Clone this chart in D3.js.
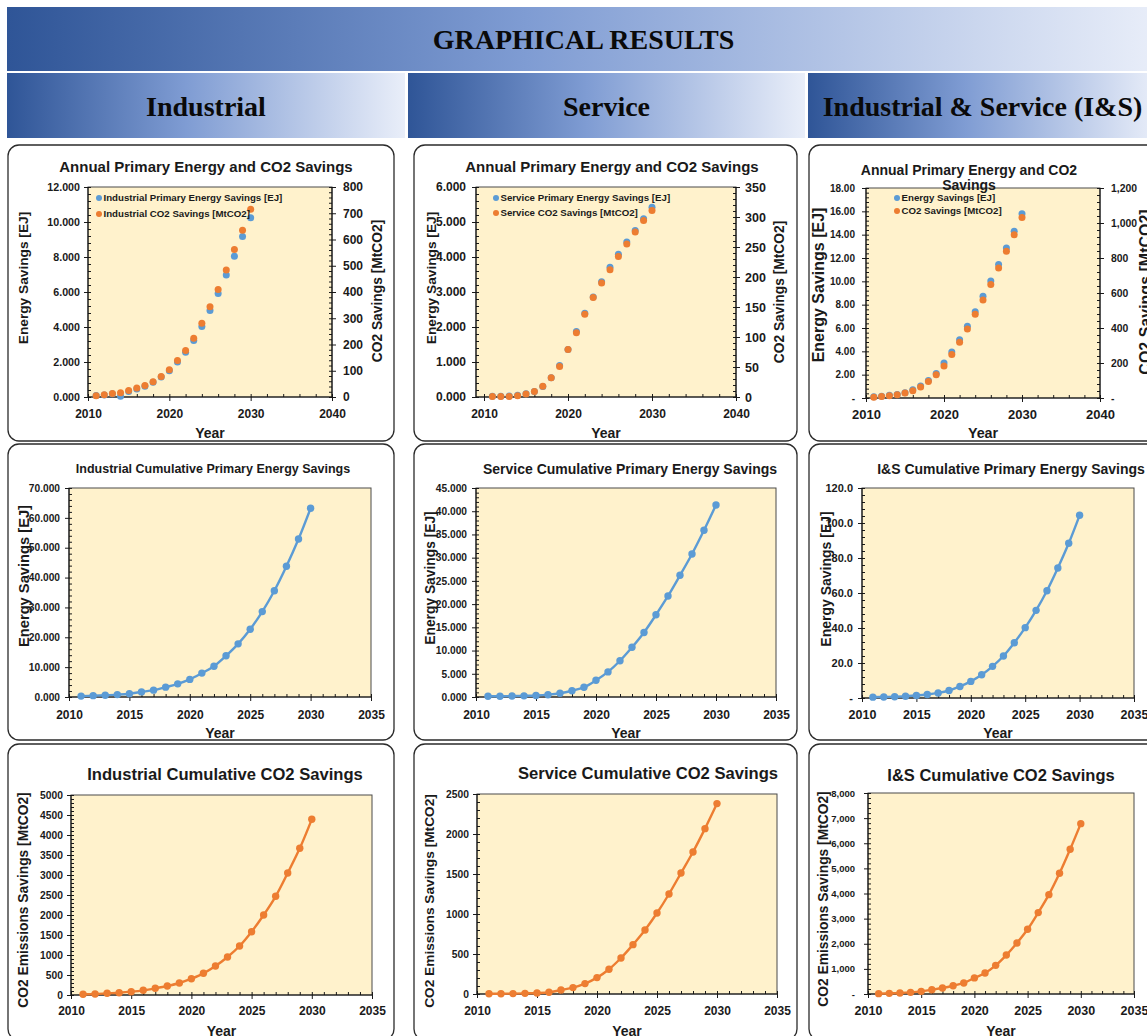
<!DOCTYPE html>
<html>
<head>
<meta charset="utf-8">
<script src="https://cdn.jsdelivr.net/npm/d3@7"></script>
<style>
  html, body { margin: 0; padding: 0; background: #ffffff; }
  svg { display: block; }
</style>
</head>
<body>
<svg id="chart" width="1147" height="1036"></svg>
<script>
// ---- Data -------------------------------------------------------------
const years = [2011, 2012, 2013, 2014, 2015, 2016, 2017, 2018, 2019, 2020,
               2021, 2022, 2023, 2024, 2025, 2026, 2027, 2028, 2029, 2030];

// Annual savings (energy in EJ, CO2 in MtCO2)
const indAnnualEnergy = [0.08, 0.12, 0.18, 0.05, 0.32, 0.46, 0.61, 0.85, 1.14, 1.50,
                         2.00, 2.56, 3.23, 4.03, 4.94, 5.92, 6.97, 8.05, 9.17, 10.25];
const indAnnualCO2    = [5, 9, 13, 16, 25, 34, 44, 58, 78, 104,
                         139, 177, 224, 281, 344, 410, 484, 562, 635, 715];
const svcAnnualEnergy = [0.02, 0.02, 0.03, 0.05, 0.09, 0.16, 0.30, 0.55, 0.90, 1.36,
                         1.87, 2.39, 2.86, 3.29, 3.71, 4.08, 4.43, 4.76, 5.09, 5.42];
const svcAnnualCO2    = [1, 1, 1, 2, 5, 9, 18, 32, 51, 79,
                         107, 138, 166, 190, 212, 234, 255, 275, 294, 311];
const isAnnualEnergy  = [0.10, 0.15, 0.23, 0.30, 0.45, 0.70, 1.03, 1.50, 2.10, 3.00,
                         3.95, 5.00, 6.15, 7.40, 8.72, 10.02, 11.45, 12.85, 14.30, 15.80];
const isAnnualCO2     = [4, 8, 13, 19, 29, 42, 63, 95, 133, 183,
                         248, 318, 394, 478, 560, 648, 743, 838, 933, 1032];

// Cumulative savings
const indCumEnergy = [0.3, 0.45, 0.6, 0.8, 1.1, 1.7, 2.3, 3.3, 4.4, 5.9,
                      8.0, 10.3, 13.8, 17.8, 22.7, 28.6, 35.6, 43.8, 52.9, 63.2];
const svcCumEnergy = [0.15, 0.17, 0.2, 0.25, 0.33, 0.5, 0.8, 1.35, 2.1, 3.6,
                      5.4, 7.8, 10.7, 13.9, 17.7, 21.75, 26.2, 30.8, 35.9, 41.35];
const isCumEnergy  = [0.5, 0.6, 0.7, 1.0, 1.4, 2.0, 2.9, 4.3, 6.6, 9.5,
                      13.3, 18.1, 24.0, 31.6, 40.2, 50.1, 61.3, 74.3, 88.4, 104.4];
const indCumCO2    = [17, 25, 42, 58, 83, 117, 167, 225, 300, 408,
                      542, 725, 950, 1225, 1583, 2000, 2467, 3050, 3667, 4392];
const svcCumCO2    = [4, 4, 5, 8, 12, 22, 50, 80, 130, 205,
                      310, 450, 617, 800, 1012, 1250, 1512, 1775, 2067, 2380];
const isCumCO2     = [13, 25, 40, 65, 105, 170, 240, 330, 440, 640,
                      835, 1140, 1550, 2030, 2575, 3240, 3955, 4805, 5760, 6780];

// Tick labels and headings
const annualYearTicks = [2010, 2020, 2030, 2040];
const cumulativeYearTicks = [2010, 2015, 2020, 2025, 2030, 2035];
const pageTitle = "GRAPHICAL RESULTS";
const columnTitles = ["Industrial", "Service", "Industrial & Service (I&S)"];

// ---- Styling ----------------------------------------------------------
const BLUE = "#5b9bd5";
const ORANGE = "#ed7d31";
const PLOT_BG = "#fff2cc";
const SANS = "'Liberation Sans', Arial, Helvetica, sans-serif";
const SERIF = "'Liberation Serif', 'Times New Roman', serif";
const INK = "#1a1a1a";

const svg = d3.select("#chart");
const defs = svg.append("defs");

const grad = defs.append("linearGradient").attr("id", "hdrGrad")
  .attr("x1", "0%").attr("x2", "100%").attr("y1", "0%").attr("y2", "0%");
[[0, "#2f5597"], [0.45, "#7f9cd3"], [1, "#e9eef9"]]
  .forEach(([o, c]) => grad.append("stop").attr("offset", o).attr("stop-color", c));

// ---- Header bands -----------------------------------------------------
svg.append("rect").attr("x", 7).attr("y", 7).attr("width", 1153).attr("height", 64)
  .attr("fill", "url(#hdrGrad)");
svg.append("text").attr("x", 583.5).attr("y", 49).attr("text-anchor", "middle")
  .attr("font-family", SERIF).attr("font-weight", "bold").attr("font-size", 28)
  .attr("fill", "#0a0a0a").text(pageTitle);

const cells = [{ x: 7, w: 398 }, { x: 408, w: 397 }, { x: 808, w: 349 }];
cells.forEach((c, i) => {
  svg.append("rect").attr("x", c.x).attr("y", 73).attr("width", c.w).attr("height", 65)
    .attr("fill", "url(#hdrGrad)");
  svg.append("text").attr("x", c.x + c.w / 2).attr("y", 116).attr("text-anchor", "middle")
    .attr("font-family", SERIF).attr("font-weight", "bold").attr("font-size", 28)
    .attr("fill", "#0a0a0a").text(columnTitles[i]);
});

// ---- Panel drawing ----------------------------------------------------
const dashZero = f => d => (d === 0 ? "-" : f(d));

function styleAxis(a, fs) {
  a.attr("font-family", SANS).attr("font-size", fs).attr("font-weight", "bold")
    .attr("color", INK);
  a.select(".domain").remove();
}

function drawPanel(p) {
  const g = svg.append("g");
  const [bx, by, bw, bh] = p.box;
  const pl = p.plot;

  g.append("rect").attr("x", bx).attr("y", by).attr("width", bw).attr("height", bh)
    .attr("rx", 11).attr("ry", 11).attr("fill", "#fff")
    .attr("stroke", "#2b2b2b").attr("stroke-width", 1.3);

  g.append("rect").attr("x", pl.l).attr("y", pl.t)
    .attr("width", pl.r - pl.l).attr("height", pl.b - pl.t)
    .attr("fill", PLOT_BG).attr("stroke", "#4a4a4a").attr("stroke-width", 1);

  const x = d3.scaleLinear().domain(p.xDomain).range(p.xRange);
  const yL = d3.scaleLinear().domain([0, p.left.max]).range([pl.b, pl.t]);
  const yR = p.right ? d3.scaleLinear().domain([0, p.right.max]).range([pl.b, pl.t]) : null;

  // x axis: minor ticks inside, major ticks outside
  const xMinor = d3.range(p.xDomain[0], p.xDomain[1] + 1e-9, p.xMinorStep);
  const xm = g.append("g").attr("transform", `translate(0,${pl.b})`)
    .call(d3.axisBottom(x).tickValues(xMinor).tickSize(-3).tickFormat(""));
  styleAxis(xm, 10);
  const xa = g.append("g").attr("transform", `translate(0,${pl.b})`)
    .call(d3.axisBottom(x).tickValues(p.xTicks).tickSizeInner(4).tickSizeOuter(0)
      .tickFormat(d3.format("d")));
  styleAxis(xa, p.xFs);
  xa.selectAll("text").attr("y", p.xBase - pl.b).attr("dy", null);

  // left axis
  const lm = g.append("g").attr("transform", `translate(${pl.l},0)`)
    .call(d3.axisLeft(yL).tickValues(d3.range(0, p.left.max + 1e-9, p.left.minor))
      .tickSize(-3).tickFormat(""));
  styleAxis(lm, 10);
  const la = g.append("g").attr("transform", `translate(${pl.l},0)`)
    .call(d3.axisLeft(yL).tickValues(d3.range(0, p.left.max + 1e-9, p.left.step))
      .tickSizeInner(4).tickSizeOuter(0).tickPadding(pl.l - p.left.labelEnd - 4)
      .tickFormat(p.left.fmt));
  styleAxis(la, p.left.fs);

  // right axis (annual charts)
  if (yR) {
    const rm = g.append("g").attr("transform", `translate(${pl.r},0)`)
      .call(d3.axisRight(yR).tickValues(d3.range(0, p.right.max + 1e-9, p.right.minor))
        .tickSize(-3).tickFormat(""));
    styleAxis(rm, 10);
    const ra = g.append("g").attr("transform", `translate(${pl.r},0)`)
      .call(d3.axisRight(yR).tickValues(d3.range(0, p.right.max + 1e-9, p.right.step))
        .tickSizeInner(4).tickSizeOuter(0).tickPadding(p.right.labelStart - pl.r - 4)
        .tickFormat(p.right.fmt));
    styleAxis(ra, p.right.fs);
  }

  // axis lines
  g.append("line").attr("x1", pl.l).attr("x2", pl.r).attr("y1", pl.b).attr("y2", pl.b)
    .attr("stroke", "#111").attr("stroke-width", 1.1);
  g.append("line").attr("x1", pl.l).attr("x2", pl.l).attr("y1", pl.t).attr("y2", pl.b)
    .attr("stroke", "#111").attr("stroke-width", 1.1);
  if (yR) {
    g.append("line").attr("x1", pl.r).attr("x2", pl.r).attr("y1", pl.t).attr("y2", pl.b)
      .attr("stroke", "#111").attr("stroke-width", 1.1);
  }

  // titles
  const txt = (sel, fs) => sel.attr("font-family", SANS).attr("font-weight", "bold")
    .attr("font-size", fs).attr("fill", INK);
  p.title.lines.forEach((t, i) => {
    txt(g.append("text"), p.title.fs).attr("x", p.title.cx).attr("y", p.title.base[i])
      .attr("text-anchor", "middle").text(t);
  });
  txt(g.append("text"), p.yearFs).attr("x", (pl.l + pl.r) / 2).attr("y", p.yearBase)
    .attr("text-anchor", "middle").text("Year");
  txt(g.append("text"), p.leftTitle.fs)
    .attr("transform", `translate(${p.leftTitle.cx},${p.leftTitle.cy}) rotate(-90)`)
    .attr("text-anchor", "middle").attr("dy", "0.35em").text(p.leftTitle.text);
  if (p.rightTitle) {
    txt(g.append("text"), p.rightTitle.fs)
      .attr("transform", `translate(${p.rightTitle.cx},${p.rightTitle.cy}) rotate(-90)`)
      .attr("text-anchor", "middle").attr("dy", "0.35em").text(p.rightTitle.text);
  }

  // series
  p.series.forEach(s => {
    const ys = s.axis === "right" ? yR : yL;
    const pts = s.values.map((v, i) => ({ yr: years[i], v }));
    if (s.line) {
      g.append("path").datum(pts)
        .attr("fill", "none").attr("stroke", s.color).attr("stroke-width", 2.4)
        .attr("d", d3.line().x(d => x(d.yr)).y(d => ys(d.v))
          .curve(d3.curveCatmullRom.alpha(0.5)));
    }
    g.append("g").selectAll("circle").data(pts).join("circle")
      .attr("cx", d => x(d.yr)).attr("cy", d => ys(d.v)).attr("r", s.r)
      .attr("fill", s.color);
  });

  // legend
  if (p.legend) {
    p.legend.items.forEach((it, i) => {
      g.append("circle").attr("cx", p.legend.x).attr("cy", p.legend.y[i]).attr("r", 3)
        .attr("fill", it.color);
      txt(g.append("text"), p.legend.fs).attr("x", p.legend.x + 4.5)
        .attr("y", p.legend.y[i]).attr("dy", "0.35em").text(it.label);
    });
  }
}

const f3 = d3.format(".3f");
const f2 = d3.format(".2f");
const f1 = d3.format(".1f");
const fi = d3.format("d");
const fc = d3.format(",");

const panels = [
  // Row 1: annual savings
  {
    box: [8, 145, 386, 296], plot: { l: 88, r: 332, t: 187, b: 397 },
    xDomain: [2010, 2040], xRange: [88, 332], xTicks: annualYearTicks, xMinorStep: 2,
    xFs: 12, xBase: 417.5, yearFs: 14, yearBase: 437.5,
    left: { max: 12, step: 2, minor: 0.4, fmt: f3, labelEnd: 80, fs: 10.7 },
    right: { max: 800, step: 100, minor: 20, fmt: fi, labelStart: 343, fs: 12 },
    title: { lines: ["Annual Primary Energy and CO2 Savings"], cx: 206, base: [171.5], fs: 15 },
    leftTitle: { text: "Energy Savings [EJ]", cx: 23.5, cy: 278, fs: 13.7 },
    rightTitle: { text: "CO2 Savings [MtCO2]", cx: 377.5, cy: 291, fs: 13.8 },
    legend: { x: 99, y: [198, 214], fs: 9.7, items: [
      { color: BLUE, label: "Industrial Primary Energy Savings [EJ]" },
      { color: ORANGE, label: "Industrial CO2 Savings [MtCO2]" }] },
    series: [
      { values: indAnnualEnergy, axis: "left", color: BLUE, r: 3.5 },
      { values: indAnnualCO2, axis: "right", color: ORANGE, r: 3.5 }]
  },
  {
    box: [414, 145, 383, 296], plot: { l: 476, r: 736, t: 187, b: 397 },
    xDomain: [2010, 2040], xRange: [484, 736], xTicks: annualYearTicks, xMinorStep: 2,
    xFs: 12, xBase: 417.5, yearFs: 14, yearBase: 437.5,
    left: { max: 6, step: 1, minor: 0.2, fmt: f3, labelEnd: 466, fs: 12 },
    right: { max: 350, step: 50, minor: 10, fmt: fi, labelStart: 745, fs: 12.5 },
    title: { lines: ["Annual Primary Energy and CO2 Savings"], cx: 612, base: [171.5], fs: 15 },
    leftTitle: { text: "Energy Savings [EJ]", cx: 431, cy: 278, fs: 13.7 },
    rightTitle: { text: "CO2 Savings [MtCO2]", cx: 779.5, cy: 292, fs: 13.8 },
    legend: { x: 496, y: [198, 213], fs: 9.7, items: [
      { color: BLUE, label: "Service Primary Energy Savings [EJ]" },
      { color: ORANGE, label: "Service CO2 Savings [MtCO2]" }] },
    series: [
      { values: svcAnnualEnergy, axis: "left", color: BLUE, r: 3.5 },
      { values: svcAnnualCO2, axis: "right", color: ORANGE, r: 3.5 }]
  },
  {
    box: [809, 145, 386, 296], plot: { l: 866, r: 1100, t: 188, b: 398 },
    xDomain: [2010, 2040], xRange: [866, 1100], xTicks: annualYearTicks, xMinorStep: 2,
    xFs: 13, xBase: 418.5, yearFs: 14.3, yearBase: 437.5,
    left: { max: 18, step: 2, minor: 0.4, fmt: dashZero(f2), labelEnd: 855, fs: 10 },
    right: { max: 1200, step: 200, minor: 40, fmt: dashZero(fc), labelStart: 1111, fs: 10.4 },
    title: { lines: ["Annual Primary Energy and CO2", "Savings"], cx: 969, base: [174.5, 189.5], fs: 14 },
    leftTitle: { text: "Energy Savings [EJ]", cx: 818, cy: 285, fs: 16 },
    rightTitle: { text: "CO2 Savings [MtCO2]", cx: 1145, cy: 292, fs: 16 },
    legend: { x: 897, y: [198, 211], fs: 9.7, items: [
      { color: BLUE, label: "Energy Savings [EJ]" },
      { color: ORANGE, label: "CO2 Savings [MtCO2]" }] },
    series: [
      { values: isAnnualEnergy, axis: "left", color: BLUE, r: 3.5 },
      { values: isAnnualCO2, axis: "right", color: ORANGE, r: 3.5 }]
  },
  // Row 2: cumulative primary energy savings
  {
    box: [8, 444, 386, 296], plot: { l: 69, r: 371, t: 488, b: 697 },
    xDomain: [2010, 2035], xRange: [69, 371], xTicks: cumulativeYearTicks, xMinorStep: 1,
    xFs: 12, xBase: 718.5, yearFs: 14, yearBase: 737.5,
    left: { max: 70, step: 10, minor: 2, fmt: f3, labelEnd: 60, fs: 10.2 },
    title: { lines: ["Industrial Cumulative Primary Energy Savings"], cx: 213, base: [472.5], fs: 12.5 },
    leftTitle: { text: "Energy Savings [EJ]", cx: 23.5, cy: 576, fs: 14.7 },
    series: [{ values: indCumEnergy, axis: "left", color: BLUE, r: 3.7, line: true }]
  },
  {
    box: [414, 444, 383, 296], plot: { l: 476, r: 776, t: 488, b: 697 },
    xDomain: [2010, 2035], xRange: [476, 776], xTicks: cumulativeYearTicks, xMinorStep: 1,
    xFs: 12, xBase: 718.5, yearFs: 14, yearBase: 737.5,
    left: { max: 45, step: 5, minor: 1, fmt: f3, labelEnd: 467, fs: 10.2 },
    title: { lines: ["Service Cumulative Primary Energy Savings"], cx: 630, base: [473.5], fs: 14 },
    leftTitle: { text: "Energy Savings [EJ]", cx: 430, cy: 578, fs: 13.8 },
    series: [{ values: svcCumEnergy, axis: "left", color: BLUE, r: 3.7, line: true }]
  },
  {
    box: [809, 444, 386, 296], plot: { l: 862, r: 1134, t: 488, b: 698 },
    xDomain: [2010, 2035], xRange: [862, 1134], xTicks: cumulativeYearTicks, xMinorStep: 1,
    xFs: 12.5, xBase: 718.5, yearFs: 14, yearBase: 737.5,
    left: { max: 120, step: 20, minor: 4, fmt: dashZero(f1), labelEnd: 853, fs: 11 },
    title: { lines: ["I&S Cumulative Primary Energy Savings"], cx: 1011, base: [474], fs: 14 },
    leftTitle: { text: "Energy Savings [EJ]", cx: 826, cy: 579, fs: 14 },
    series: [{ values: isCumEnergy, axis: "left", color: BLUE, r: 3.7, line: true }]
  },
  // Row 3: cumulative CO2 savings
  {
    box: [8, 744, 386, 296], plot: { l: 71, r: 372, t: 795, b: 995 },
    xDomain: [2010, 2035], xRange: [71, 372], xTicks: cumulativeYearTicks, xMinorStep: 1,
    xFs: 12, xBase: 1015, yearFs: 14, yearBase: 1035.5,
    left: { max: 5000, step: 500, minor: 100, fmt: fi, labelEnd: 63, fs: 10.3 },
    title: { lines: ["Industrial Cumulative CO2 Savings"], cx: 225, base: [780], fs: 16.6 },
    leftTitle: { text: "CO2 Emissions Savings [MtCO2]", cx: 23.5, cy: 900, fs: 13.8 },
    series: [{ values: indCumCO2, axis: "left", color: ORANGE, r: 3.7, line: true }]
  },
  {
    box: [414, 744, 383, 296], plot: { l: 477, r: 777, t: 794, b: 994 },
    xDomain: [2010, 2035], xRange: [477, 777], xTicks: cumulativeYearTicks, xMinorStep: 1,
    xFs: 12, xBase: 1015, yearFs: 14, yearBase: 1035.5,
    left: { max: 2500, step: 500, minor: 100, fmt: fi, labelEnd: 469, fs: 10.3 },
    title: { lines: ["Service Cumulative CO2 Savings"], cx: 648, base: [779], fs: 16.6 },
    leftTitle: { text: "CO2 Emissions Savings [MtCO2]", cx: 429, cy: 901, fs: 13.7 },
    series: [{ values: svcCumCO2, axis: "left", color: ORANGE, r: 3.7, line: true }]
  },
  {
    box: [809, 744, 386, 296], plot: { l: 868, r: 1134, t: 793, b: 994 },
    xDomain: [2010, 2035], xRange: [868, 1134], xTicks: cumulativeYearTicks, xMinorStep: 1,
    xFs: 12.5, xBase: 1015, yearFs: 14, yearBase: 1035.5,
    left: { max: 8000, step: 1000, minor: 200, fmt: dashZero(fc), labelEnd: 855, fs: 9.5 },
    title: { lines: ["I&S Cumulative CO2 Savings"], cx: 1001, base: [781], fs: 16.5 },
    leftTitle: { text: "CO2 Emissions Savings [MtCO2]", cx: 823, cy: 899, fs: 13.8 },
    series: [{ values: isCumCO2, axis: "left", color: ORANGE, r: 3.7, line: true }]
  }
];

panels.forEach(drawPanel);
</script>
</body>
</html>
